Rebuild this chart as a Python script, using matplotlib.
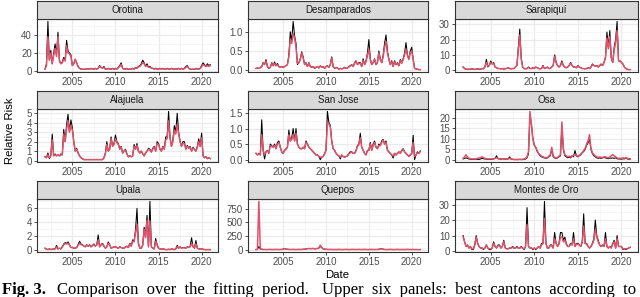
import numpy as np
import matplotlib.pyplot as plt
from matplotlib.ticker import FixedLocator, MultipleLocator

plt.rcParams['font.family'] = ['Liberation Sans', 'DejaVu Sans']

# bimonthly points: Nov 2001, then 2002..2020 (6 per year), then Jan 2021
start_year = 2001 + 10 / 12
step = 1 / 6

cantons = ["Orotina", "Desamparados", "Sarapiquí",
           "Alajuela", "San Jose", "Osa",
           "Upala", "Quepos", "Montes de Oro"]

orotina_obs = [2,
    8, 55, 12, 23, 8, 20,
    30, 18, 43, 12, 8, 10,
    15, 12, 34, 22, 20, 18,
    6, 8, 13, 9, 5, 3,
    2, 2, 1.5, 2, 2, 2.5,
    2, 3, 2, 2, 3, 2,
    3, 6, 4, 3, 5, 2,
    2, 3, 2, 2, 3, 2,
    3, 2, 4, 6, 9, 3,
    2, 2, 3, 1.5, 2, 2,
    3, 2, 4, 3, 5, 6,
    8, 12, 9, 5, 8, 4,
    5, 3, 3, 2, 3, 2,
    2, 3, 2, 3, 2, 2,
    3, 2, 2, 3, 2, 2,
    2, 2, 3, 2, 3, 2,
    3, 5, 6, 3, 2, 1.5,
    2, 1.5, 3, 2, 2, 3,
    6, 9, 7, 5, 8, 6,
    7]
orotina_fit = [2,
    6, 38, 12, 20, 8, 17,
    25, 16, 38, 11, 8, 9,
    13, 11, 28, 20, 19, 16,
    6, 8, 13, 9, 5, 3,
    2, 2, 2, 2, 2, 2.5,
    2, 2.5, 2, 2, 2.5, 2,
    3, 5, 4, 3, 4, 2,
    2, 2.5, 2, 2, 2.5, 2,
    2.5, 2, 3.5, 5, 7, 3,
    2, 2, 2.5, 2, 2, 2,
    2.5, 2, 3.5, 3, 4.5, 5,
    7, 9, 8, 5, 6, 4,
    4, 3, 3, 2, 2.5, 2,
    2, 2.5, 2, 2.5, 2, 2,
    2.5, 2, 2, 2.5, 2, 2,
    2, 2, 2.5, 2, 2.5, 2,
    2.5, 4, 5, 3, 2, 2,
    2, 2, 2.5, 2, 2, 2.5,
    5, 7, 6, 5, 6, 5,
    6]

desamparados_obs = [0.05,
    0.06, 0.05, 0.07, 0.1, 0.2, 0.15,
    0.28, 0.1, 0.05, 0.08, 0.2, 0.12,
    0.22, 0.12, 0.18, 0.1, 0.08, 0.1,
    0.08, 0.1, 0.12, 0.15, 0.4, 1.0,
    0.75, 1.27, 0.9, 0.7, 0.15, 0.2,
    0.3, 0.48, 0.35, 0.15, 0.2, 0.1,
    0.2, 0.1, 0.08, 0.1, 0.05, 0.08,
    0.1, 0.06, 0.12, 0.08, 0.1, 0.05,
    0.1, 0.12, 0.08, 0.15, 0.35, 0.1,
    0.05, 0.08, 0.06, 0.03, 0.05, 0.04,
    0.05, 0.08, 0.05, 0.06, 0.1, 0.12,
    0.15, 0.1, 0.2, 0.25, 0.15, 0.2,
    0.2, 0.1, 0.3, 0.15, 0.25, 0.45,
    0.8, 0.3, 0.15, 0.2, 0.3, 0.15,
    0.2, 0.5, 0.3, 0.2, 0.4, 0.7,
    0.92, 0.5, 0.3, 0.15, 0.25, 0.1,
    0.25, 0.15, 0.2, 0.12, 0.28, 0.2,
    0.3, 0.45, 0.72, 0.4, 0.3, 0.5,
    0.6, 0.3, 0.05, 0.04, 0.03, 0.02,
    0.02]
desamparados_fit = [0.05,
    0.06, 0.05, 0.07, 0.1, 0.18, 0.15,
    0.24, 0.1, 0.06, 0.08, 0.18, 0.12,
    0.18, 0.12, 0.15, 0.1, 0.08, 0.1,
    0.08, 0.1, 0.12, 0.15, 0.35, 0.8,
    0.7, 0.95, 0.85, 0.6, 0.18, 0.2,
    0.28, 0.45, 0.32, 0.15, 0.18, 0.1,
    0.18, 0.1, 0.08, 0.1, 0.06, 0.08,
    0.1, 0.07, 0.11, 0.08, 0.1, 0.06,
    0.1, 0.11, 0.08, 0.14, 0.32, 0.1,
    0.06, 0.07, 0.06, 0.04, 0.05, 0.04,
    0.05, 0.07, 0.05, 0.06, 0.09, 0.11,
    0.14, 0.1, 0.18, 0.23, 0.15, 0.18,
    0.18, 0.1, 0.25, 0.15, 0.22, 0.38,
    0.55, 0.28, 0.15, 0.2, 0.28, 0.15,
    0.2, 0.45, 0.28, 0.2, 0.35, 0.6,
    0.75, 0.45, 0.28, 0.15, 0.22, 0.1,
    0.22, 0.15, 0.18, 0.12, 0.25, 0.18,
    0.28, 0.4, 0.55, 0.38, 0.28, 0.45,
    0.5, 0.28, 0.05, 0.04, 0.03, 0.02,
    0.02]

sarapiqui_obs = [2,
    1, 0.5, 0.5, 0.5, 0.5, 0.8,
    0.5, 0.5, 0.5, 0.8, 0.5, 0.5,
    1, 0.8, 2, 7, 2, 3,
    6, 4, 5, 2, 1.5, 1,
    1, 0.8, 1, 0.5, 1, 1,
    1.5, 1, 0.8, 1, 1, 2,
    3, 15, 27, 8, 2, 1,
    0.8, 1, 2, 1, 1, 1.5,
    1, 2, 1.5, 1, 0.8, 1,
    3, 1, 1.5, 2, 1, 1,
    2, 3, 10, 5, 3, 2,
    3, 6, 3, 2, 1.5, 2,
    3, 5, 3, 2, 2, 1.5,
    3, 2, 1.5, 1, 1, 0.8,
    1, 1.5, 1, 2, 4, 3,
    2.5, 3, 2, 3, 4, 3,
    5, 8, 25, 15, 26, 8,
    5, 15, 20, 32, 6, 6,
    5, 4, 2, 1, 0.5, 0.3,
    0.3]
sarapiqui_fit = [2,
    1, 0.6, 0.5, 0.5, 0.6, 0.8,
    0.6, 0.5, 0.5, 0.8, 0.6, 0.6,
    1, 0.9, 2, 5, 2.5, 3,
    5, 4, 4.5, 2, 1.5, 1,
    1, 0.8, 1, 0.6, 1, 1,
    1.5, 1, 0.9, 1, 1, 2,
    3, 13, 23, 7, 2, 1,
    0.9, 1, 1.8, 1, 1, 1.5,
    1, 1.8, 1.5, 1, 0.9, 1,
    2.5, 1, 1.5, 1.8, 1, 1,
    2, 3, 9, 5, 3, 2,
    3, 5, 3, 2, 1.5, 2,
    3, 4.5, 3, 2, 2, 1.5,
    2.5, 2, 1.5, 1, 1, 0.8,
    1, 1.5, 1, 2, 3.5, 3,
    2.5, 3, 2, 3, 3.5, 3,
    5, 8, 21, 14, 22, 8,
    5, 13, 18, 26, 6, 6,
    5, 4, 2, 1, 0.5, 0.3,
    0.3]

alajuela_obs = [0.4,
    0.3, 0.8, 0.2, 0.5, 2.8, 0.5,
    0.7, 0.5, 0.6, 0.5, 0.7, 0.6,
    3.3, 2.0, 3.8, 4.9, 3.0, 4.3,
    3.5, 2.0, 1.0, 1.3, 0.8, 0.5,
    0.3, 0.2, 0.1, 0.1, 0.1, 0.1,
    0.1, 0.1, 0.1, 0.1, 0.1, 0.1,
    0.1, 0.1, 0.1, 0.1, 0.3, 0.8,
    2.0, 1.0, 1.2, 2.5, 1.5, 1.8,
    2.7, 2.0, 1.8, 1.2, 1.5, 0.8,
    1.0, 1.2, 0.7, 0.4, 0.5, 0.4,
    0.5, 1.7, 1.2, 1.8, 1.0, 0.8,
    1.0, 0.7, 0.5, 0.8, 1.0, 1.3,
    1.2, 0.9, 1.3, 1.5, 1.0, 2.0,
    1.8, 1.2, 1.0, 1.5, 1.2, 2.5,
    2.5, 5.2, 2.5, 1.5, 2.2, 3.7,
    3.0, 5.0, 3.0, 2.0, 1.5, 2.0,
    2.0, 1.2, 1.6, 1.3, 1.5, 1.0,
    1.4, 1.2, 1.0, 1.5, 2.3, 1.5,
    2.9, 0.5, 0.3, 0.4, 0.2, 0.3,
    0.2]
alajuela_fit = [0.4,
    0.3, 0.6, 0.3, 0.5, 2.2, 0.5,
    0.6, 0.5, 0.6, 0.5, 0.6, 0.6,
    2.8, 2.0, 3.3, 4.2, 3.0, 3.7,
    3.2, 2.0, 1.0, 1.2, 0.8, 0.5,
    0.3, 0.2, 0.1, 0.1, 0.1, 0.1,
    0.1, 0.1, 0.1, 0.1, 0.1, 0.1,
    0.1, 0.1, 0.1, 0.1, 0.3, 0.7,
    1.7, 1.0, 1.2, 2.3, 1.5, 1.7,
    2.3, 1.9, 1.7, 1.2, 1.4, 0.8,
    1.0, 1.1, 0.7, 0.4, 0.5, 0.4,
    0.5, 1.5, 1.2, 1.6, 1.0, 0.8,
    1.0, 0.7, 0.5, 0.8, 1.0, 1.2,
    1.1, 0.9, 1.2, 1.4, 1.0, 1.8,
    1.7, 1.2, 1.0, 1.4, 1.2, 2.2,
    2.3, 4.2, 2.4, 1.5, 2.0, 3.2,
    2.8, 3.8, 2.8, 2.0, 1.5, 1.8,
    1.8, 1.2, 1.5, 1.3, 1.4, 1.0,
    1.3, 1.2, 1.0, 1.4, 2.0, 1.5,
    2.4, 0.5, 0.3, 0.4, 0.2, 0.3,
    0.2]

sanjose_obs = [0.2,
    0.15, 0.2, 0.15, 1.28, 0.3, 0.02,
    0.25, 0.3, 0.2, 0.5, 0.45, 0.4,
    0.5, 0.35, 0.55, 0.6, 0.4, 0.25,
    0.2, 0.3, 0.35, 0.4, 0.95, 0.6,
    0.7, 1.0, 0.6, 1.0, 0.5, 0.4,
    0.35, 0.35, 0.4, 0.35, 0.6, 0.5,
    0.4, 0.35, 0.3, 0.25, 0.2, 0.15,
    0.15, 0.1, 0.0, 0.08, 0.1, 0.2,
    0.3, 1.55, 1.2, 1.1, 0.6, 0.35,
    0.3, 0.2, 0.15, 0.12, 0.02, 0.15,
    0.1, 0.08, 0.1, 0.12, 0.2, 0.25,
    0.25, 0.2, 0.2, 0.3, 0.45, 0.5,
    0.85, 0.4, 0.3, 0.2, 0.15, 0.3,
    0.3, 0.55, 0.3, 0.5, 0.6, 0.4,
    0.35, 0.5, 0.45, 0.6, 0.65, 0.5,
    0.6, 0.3, 0.25, 0.2, 0.15, 0.05,
    0.2, 0.15, 0.2, 0.25, 0.2, 0.3,
    0.35, 0.25, 0.2, 0.15, 0.1, 0.15,
    0.2, 0.78, 0.0, 0.15, 0.25, 0.2,
    0.28]
sanjose_fit = [0.2,
    0.15, 0.18, 0.15, 0.8, 0.3, 0.15,
    0.25, 0.28, 0.22, 0.45, 0.42, 0.4,
    0.45, 0.35, 0.5, 0.55, 0.4, 0.25,
    0.2, 0.3, 0.32, 0.4, 0.8, 0.6,
    0.65, 0.8, 0.6, 0.85, 0.5, 0.4,
    0.35, 0.35, 0.4, 0.35, 0.55, 0.5,
    0.4, 0.35, 0.3, 0.25, 0.2, 0.15,
    0.15, 0.1, 0.08, 0.08, 0.1, 0.18,
    0.3, 1.2, 1.15, 1.05, 0.6, 0.35,
    0.3, 0.2, 0.15, 0.12, 0.08, 0.14,
    0.1, 0.08, 0.1, 0.12, 0.18, 0.22,
    0.24, 0.2, 0.2, 0.28, 0.42, 0.48,
    0.7, 0.4, 0.3, 0.2, 0.15, 0.28,
    0.3, 0.5, 0.3, 0.45, 0.55, 0.4,
    0.35, 0.45, 0.45, 0.55, 0.62, 0.5,
    0.55, 0.3, 0.25, 0.2, 0.15, 0.12,
    0.2, 0.15, 0.2, 0.25, 0.2, 0.28,
    0.32, 0.25, 0.2, 0.15, 0.1, 0.15,
    0.2, 0.55, 0.1, 0.15, 0.22, 0.2,
    0.26]

osa_obs = [0.5,
    0.8, 1.0, 0.8, 0.5, 0.4, 0.3,
    0.3, 0.3, 0.4, 0.3, 0.3, 0.5,
    0.8, 0.6, 0.5, 0.4, 0.3, 0.3,
    0.3, 0.4, 0.5, 0.8, 2.0, 0.6,
    0.5, 0.4, 0.6, 0.5, 0.4, 0.5,
    0.5, 1.5, 0.5, 0.3, 0.2, 0.2,
    0.2, 0.2, 0.3, 0.2, 0.2, 0.3,
    0.5, 1.0, 3.0, 21.0, 17.0, 10.0,
    7.0, 6.0, 4.0, 3.0, 2.0, 1.5,
    1.2, 1.0, 0.8, 1.0, 1.5, 2.0,
    5.0, 1.5, 1.0, 0.8, 1.0, 1.5,
    2.0, 16.0, 5.0, 2.0, 1.5, 1.0,
    1.5, 1.0, 2.0, 1.5, 4.5, 2.0,
    1.5, 2.0, 2.5, 3.5, 4.0, 5.0,
    7.0, 8.0, 10.0, 5.0, 3.0, 2.0,
    1.5, 1.0, 0.8, 1.0, 0.8, 1.0,
    1.2, 1.0, 0.8, 0.6, 1.0, 0.8,
    1.0, 0.8, 1.0, 0.6, 0.5, 0.5,
    0.4, 0.6, 0.5, 1.0, 0.5, 0.4,
    0.4]
osa_fit = [0.8,
    1.5, 2.5, 1.5, 0.8, 0.6, 0.5,
    0.5, 0.5, 0.6, 0.8, 1.0, 1.2,
    1.5, 1.2, 0.8, 0.6, 0.5, 0.5,
    0.5, 0.5, 0.6, 0.8, 1.0, 0.8,
    0.6, 0.5, 0.6, 0.5, 0.5, 0.5,
    0.5, 0.8, 0.5, 0.4, 0.3, 0.3,
    0.3, 0.3, 0.3, 0.3, 0.4, 0.5,
    0.8, 1.5, 4.0, 23.0, 17.0, 10.0,
    7.0, 6.0, 4.5, 3.0, 2.5, 1.8,
    1.5, 1.2, 1.0, 1.2, 1.8, 2.5,
    6.0, 2.0, 1.2, 1.0, 1.2, 1.8,
    2.5, 18.0, 5.5, 2.5, 2.0, 1.5,
    1.8, 1.5, 2.0, 2.0, 2.5, 2.0,
    1.8, 2.2, 2.8, 3.5, 4.5, 5.5,
    7.5, 9.0, 12.0, 5.5, 3.5, 2.5,
    2.0, 1.5, 1.2, 1.5, 1.2, 1.2,
    1.5, 1.5, 1.2, 1.0, 1.5, 2.0,
    2.5, 2.0, 1.5, 1.0, 0.8, 0.8,
    0.8, 1.0, 0.8, 1.2, 0.8, 0.6,
    0.6]

upala_obs = [0.3,
    0.15, 0.1, 0.2, 0.1, 0.15, 0.2,
    0.2, 0.7, 0.2, 0.3, 0.2, 0.5,
    0.9, 1.1, 1.0, 1.2, 0.8, 0.4,
    0.4, 0.3, 0.3, 0.4, 0.8, 1.3,
    0.9, 0.8, 0.6, 0.5, 0.8, 0.6,
    0.8, 0.5, 0.7, 0.9, 0.6, 0.8,
    2.2, 0.5, 0.8, 1.0, 0.6, 0.3,
    0.5, 1.2, 0.8, 0.3, 0.4, 0.5,
    0.5, 0.4, 0.3, 0.5, 0.4, 0.3,
    0.3, 0.5, 0.6, 0.4, 1.0, 0.6,
    1.5, 1.3, 3.0, 6.0, 1.0, 0.3,
    0.3, 0.8, 3.3, 2.0, 5.0, 0.5,
    7.0, 0.5, 0.3, 0.2, 1.7, 0.8,
    0.3, 0.2, 0.15, 0.2, 0.15, 0.1,
    0.1, 0.15, 0.1, 0.2, 0.15, 0.1,
    0.2, 0.7, 0.3, 0.5, 0.3, 0.4,
    0.4, 0.3, 0.5, 0.4, 0.6, 1.8,
    0.5, 0.3, 1.4, 0.3, 0.2, 0.2,
    0.2, 0.15, 0.1, 0.1, 0.1, 0.1,
    0.1]
upala_fit = [0.3,
    0.15, 0.12, 0.18, 0.12, 0.15, 0.2,
    0.2, 0.5, 0.2, 0.3, 0.2, 0.45,
    0.8, 0.95, 0.9, 1.0, 0.75, 0.4,
    0.4, 0.3, 0.3, 0.4, 0.7, 1.0,
    0.8, 0.75, 0.6, 0.5, 0.7, 0.6,
    0.7, 0.5, 0.65, 0.8, 0.6, 0.75,
    1.5, 0.5, 0.75, 0.9, 0.6, 0.3,
    0.5, 1.0, 0.75, 0.3, 0.4, 0.5,
    0.5, 0.4, 0.3, 0.45, 0.4, 0.3,
    0.3, 0.45, 0.55, 0.4, 0.9, 0.6,
    1.3, 1.2, 2.5, 3.7, 1.0, 0.3,
    0.3, 0.7, 3.0, 1.8, 4.3, 0.5,
    4.2, 0.5, 0.3, 0.2, 1.3, 0.7,
    0.3, 0.2, 0.15, 0.2, 0.15, 0.1,
    0.1, 0.15, 0.1, 0.18, 0.15, 0.1,
    0.2, 0.5, 0.3, 0.45, 0.3, 0.35,
    0.35, 0.3, 0.45, 0.4, 0.5, 1.0,
    0.5, 0.3, 0.9, 0.3, 0.2, 0.2,
    0.2, 0.15, 0.1, 0.1, 0.1, 0.1,
    0.1]

quepos_obs = [3,
    8, 60, 15, 8, 5, 5,
    5, 4, 5, 6, 5, 4,
    5, 6, 5, 4, 5, 6,
    10, 25, 12, 8, 6, 5,
    5, 6, 5, 4, 5, 6,
    5, 6, 8, 10, 15, 20,
    25, 20, 22, 25, 18, 20,
    22, 30, 60, 40, 15, 10,
    8, 6, 5, 6, 5, 4,
    5, 4, 5, 6, 5, 4,
    4, 5, 6, 5, 4, 5,
    5, 6, 5, 4, 5, 6,
    5, 4, 5, 6, 5, 4,
    4, 5, 6, 5, 4, 5,
    5, 8, 15, 20, 10, 5,
    5, 4, 5, 6, 5, 4,
    4, 5, 6, 5, 4, 5,
    5, 4, 5, 6, 5, 4,
    4, 5, 4, 5, 4, 4,
    4]
quepos_fit = [3,
    8, 880, 20, 8, 5, 5,
    5, 5, 5, 6, 5, 5,
    5, 6, 5, 5, 5, 6,
    10, 20, 12, 8, 6, 5,
    5, 6, 5, 5, 5, 6,
    5, 6, 8, 10, 14, 18,
    22, 20, 21, 23, 18, 20,
    22, 35, 85, 40, 15, 10,
    8, 6, 5, 6, 5, 5,
    5, 5, 5, 6, 5, 5,
    5, 5, 6, 5, 5, 5,
    5, 6, 5, 5, 5, 6,
    5, 5, 5, 6, 5, 5,
    5, 5, 6, 5, 5, 5,
    5, 8, 14, 18, 10, 5,
    5, 5, 5, 6, 5, 5,
    5, 5, 6, 5, 5, 5,
    5, 5, 5, 6, 5, 5,
    5, 5, 4, 5, 4, 4,
    4]

montes_obs = [10,
    6, 3, 4, 2, 3, 1,
    1, 4, 10, 5, 3, 2,
    2, 1, 2, 4, 2, 1,
    1, 2, 6, 3, 2, 4,
    4, 2, 3, 7, 2, 1.5,
    1.5, 2, 2, 3, 2, 2,
    3, 2, 2, 3, 2, 1,
    3, 28, 3, 2, 2, 1,
    2, 1, 2, 3, 2, 5,
    5, 32, 5, 2, 2, 4,
    4, 2, 12, 5, 3, 5,
    12, 12, 7, 9, 5, 3,
    3, 5, 4, 12, 3, 5,
    5, 4, 3, 6, 24, 5,
    5, 3, 2, 3, 5, 8,
    20, 10, 7, 4, 3, 4,
    3, 12, 3, 2, 3, 2,
    5, 7, 2, 10, 3, 3,
    3, 1, 1.5, 1, 1.5, 2,
    2.5]
montes_fit = [9,
    6, 3, 4, 2, 3, 1.5,
    1.5, 4, 9, 5, 3, 2,
    2, 1.5, 2, 4, 2, 1.5,
    1.5, 2, 5, 3, 2, 3.5,
    3.5, 2, 3, 6, 2, 1.5,
    1.5, 2, 2, 2.5, 2, 2,
    2.5, 2, 2, 2.5, 2, 1.5,
    3, 17, 3, 2, 2, 1.5,
    2, 1.5, 2, 3, 2, 4,
    5, 21, 5, 2, 2, 3.5,
    3.5, 2, 8, 5, 3, 4.5,
    9, 9, 6, 7, 4.5, 3,
    3, 4.5, 4, 8, 3, 4.5,
    4.5, 4, 3, 5.5, 16, 5,
    4.5, 3, 2, 3, 4.5, 7,
    14, 9, 6, 4, 3, 3.5,
    3, 8, 3, 2, 3, 2,
    4.5, 6, 2, 8, 3, 3,
    3, 1.5, 1.5, 1.5, 1.5, 2,
    2.5]

observed = [orotina_obs, desamparados_obs, sarapiqui_obs, alajuela_obs,
            sanjose_obs, osa_obs, upala_obs, quepos_obs, montes_obs]
fitted = [orotina_fit, desamparados_fit, sarapiqui_fit, alajuela_fit,
          sanjose_fit, osa_fit, upala_fit, quepos_fit, montes_fit]

y_breaks = [[0, 20, 40], [0.0, 0.5, 1.0], [0, 10, 20, 30],
            [0, 1, 2, 3, 4, 5], [0.0, 0.5, 1.0, 1.5], [0, 5, 10, 15, 20],
            [0, 2, 4, 6], [0, 250, 500, 750], [0, 10, 20, 30]]
x_breaks = [2005, 2010, 2015, 2020]

W, H = 640, 297
fig = plt.figure(figsize=(W / 100, H / 100), dpi=100)

col_x = [(37, 218), (248, 428), (455, 638)]
row_y = [(19, 72), (109, 162), (199, 252)]
strip_h = 18
grey20 = '#333333'

for k, name in enumerate(cantons):
    r, c = divmod(k, 3)
    x0, x1 = col_x[c]
    yt, yb = row_y[r]
    ax = fig.add_axes([x0 / W, 1 - yb / H, (x1 - x0) / W, (yb - yt) / H])
    obs = np.array(observed[k], dtype=float)
    fit = np.array(fitted[k], dtype=float)
    t = start_year + step * np.arange(len(obs))
    ax.plot(t, obs, color='black', lw=0.75, zorder=3)
    ax.plot(t, fit, color='#DF536B', lw=1.1, zorder=4)
    ax.set_xlim(2000.9, 2021.9)
    ax.margins(y=0.05)

    ax.xaxis.set_major_locator(FixedLocator(x_breaks))
    ax.xaxis.set_minor_locator(MultipleLocator(2.5))
    yb_ = y_breaks[k]
    ystep = yb_[1] - yb_[0]
    ax.yaxis.set_major_locator(FixedLocator(yb_))
    ax.yaxis.set_minor_locator(MultipleLocator(ystep / 2))
    if ystep < 1:
        ax.set_yticklabels([f'{v:.1f}' for v in yb_])
    else:
        ax.set_yticklabels([f'{v:g}' for v in yb_])

    ax.grid(which='major', color='#EBEBEB', lw=0.9, zorder=0)
    ax.grid(which='minor', color='#F3F3F3', lw=0.5, zorder=0)
    ax.set_axisbelow(True)
    ax.tick_params(which='major', length=2.5, width=0.6, color=grey20,
                   labelsize=7, labelcolor='#4D4D4D', pad=1.2)
    ax.tick_params(which='minor', length=0)
    for s in ax.spines.values():
        s.set_color(grey20)
        s.set_linewidth(0.8)

    sax = fig.add_axes([x0 / W, 1 - yt / H, (x1 - x0) / W, strip_h / H])
    sax.set_facecolor('#D9D9D9')
    sax.set_xticks([])
    sax.set_yticks([])
    for s in sax.spines.values():
        s.set_color(grey20)
        s.set_linewidth(0.8)
    sax.text(0.5, 0.5, name, ha='center', va='center', fontsize=7,
             color='#1A1A1A', transform=sax.transAxes)

fig.text(10 / W, 1 - 131 / H, 'Relative Risk', rotation=90, ha='center',
         va='center', fontsize=8.2)
fig.text(337 / W, 1 - 275 / H, 'Date', ha='center', va='center', fontsize=8.2)

# caption line from the source page (justified, so wider word gaps)
cap_y = 1 - 294 / H
fig.text(0.003, cap_y, 'Fig. 3.', fontsize=12, fontweight='bold',
         family='Liberation Serif', va='baseline')
fig.text(57 / W, cap_y, 'Comparison  over  the  fitting  period.',
         fontsize=12, family='Liberation Serif', va='baseline')
fig.text(322 / W, cap_y, 'Upper  six  panels:  best  cantons  according  to',
         fontsize=12, family='Liberation Serif', va='baseline')

fig.savefig('out.png', dpi=100)
